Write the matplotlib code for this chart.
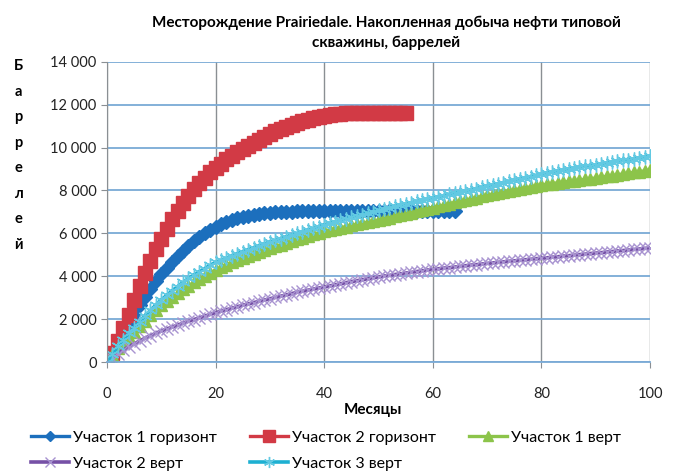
import matplotlib
matplotlib.use("Agg")
import matplotlib.pyplot as plt
from matplotlib.ticker import FuncFormatter, MultipleLocator

plt.rcParams['font.family'] = ['Lato', 'DejaVu Sans']

# месяцы и накопленная добыча, баррели
months_100 = list(range(0, 101))
months_blue = list(range(0, 65))
months_red = list(range(0, 56))

uch1_gor = [0, 450, 900, 1350, 1800, 2250,
            2650, 3050, 3420, 3780, 4100,
            4400, 4680, 4950, 5200, 5430,
            5640, 5830, 6000, 6160, 6300,
            6420, 6530, 6620, 6700, 6770,
            6830, 6880, 6920, 6950, 6970,
            6990, 7000, 7010, 7010, 7020,
            7020, 7020, 7020, 7030, 7030,
            7030, 7030, 7030, 7030, 7030,
            7040, 7040, 7040, 7040, 7040,
            7040, 7040, 7040, 7040, 7040,
            7050, 7050, 7050, 7050, 7050,
            7050, 7050, 7050, 7050]

uch2_gor = [0, 400, 1000, 1600, 2200, 2900,
            3550, 4150, 4700, 5250, 5750,
            6200, 6650, 7050, 7400, 7750,
            8050, 8350, 8600, 8850, 9050,
            9250, 9450, 9620, 9780, 9940,
            10090, 10230, 10370, 10510, 10640,
            10760, 10870, 10970, 11070, 11160,
            11240, 11310, 11380, 11440, 11490,
            11530, 11560, 11580, 11600, 11610,
            11620, 11630, 11630, 11630, 11630,
            11630, 11630, 11630, 11630, 11630]

uch1_vert = [0, 330, 640, 920, 1170, 1400,
             1670, 1930, 2180, 2420, 2650,
             2850, 3040, 3220, 3390, 3550,
             3710, 3860, 4010, 4160, 4300,
             4420, 4540, 4650, 4750, 4850,
             4940, 5030, 5120, 5210, 5300,
             5390, 5470, 5560, 5640, 5720,
             5800, 5880, 5950, 6030, 6100,
             6160, 6210, 6260, 6320, 6370,
             6420, 6470, 6520, 6570, 6620,
             6680, 6730, 6790, 6840, 6900,
             6960, 7020, 7080, 7140, 7200,
             7260, 7320, 7380, 7440, 7500,
             7560, 7610, 7670, 7720, 7780,
             7830, 7880, 7930, 7980, 8030,
             8080, 8120, 8170, 8210, 8260,
             8290, 8320, 8360, 8390, 8420,
             8450, 8480, 8520, 8550, 8580,
             8620, 8660, 8690, 8730, 8770,
             8810, 8840, 8880, 8910, 8950]

uch2_vert = [0, 200, 390, 560, 710, 850,
             980, 1110, 1230, 1340, 1450,
             1540, 1630, 1720, 1810, 1900,
             1980, 2060, 2140, 2220, 2300,
             2370, 2440, 2510, 2580, 2650,
             2710, 2770, 2830, 2890, 2950,
             3010, 3070, 3130, 3190, 3250,
             3300, 3350, 3400, 3450, 3500,
             3550, 3600, 3650, 3700, 3750,
             3790, 3840, 3880, 3930, 3970,
             4010, 4040, 4080, 4110, 4150,
             4180, 4220, 4250, 4290, 4320,
             4350, 4380, 4400, 4430, 4460,
             4490, 4520, 4540, 4570, 4600,
             4620, 4650, 4670, 4700, 4720,
             4740, 4770, 4790, 4820, 4840,
             4860, 4890, 4910, 4940, 4960,
             4980, 5010, 5030, 5060, 5080,
             5100, 5130, 5150, 5180, 5200,
             5220, 5250, 5270, 5300, 5320]

uch3_vert = [0, 380, 740, 1050, 1340, 1600,
             1880, 2150, 2410, 2660, 2900,
             3110, 3320, 3520, 3710, 3900,
             4060, 4210, 4360, 4510, 4650,
             4750, 4850, 4950, 5050, 5150,
             5240, 5330, 5420, 5510, 5600,
             5680, 5760, 5840, 5920, 6000,
             6080, 6160, 6240, 6320, 6400,
             6470, 6540, 6610, 6680, 6750,
             6820, 6880, 6950, 7010, 7080,
             7140, 7200, 7260, 7320, 7380,
             7430, 7490, 7540, 7600, 7650,
             7710, 7760, 7820, 7870, 7930,
             7980, 8040, 8090, 8150, 8200,
             8260, 8310, 8370, 8420, 8480,
             8540, 8590, 8650, 8700, 8760,
             8810, 8860, 8900, 8950, 9000,
             9040, 9080, 9120, 9160, 9200,
             9240, 9280, 9320, 9360, 9400,
             9440, 9480, 9520, 9560, 9600]

labels = ['Участок 1 горизонт', 'Участок 2 горизонт', 'Участок 1 верт',
          'Участок 2 верт', 'Участок 3 верт']

fig = plt.figure(figsize=(6.75, 4.72), dpi=100)
ax = fig.add_axes([0.1585, 0.233, 0.8045, 0.636])

h1, = ax.plot(months_blue, uch1_gor, color='#1c6fbd', lw=2.4, marker='D', ms=7,
              mec='#1c6fbd', mfc='#1c6fbd')
h2, = ax.plot(months_red, uch2_gor, color='#d23a45', lw=2.4, marker='s', ms=10,
              mec='#d23a45', mfc='#d23a45')
h3, = ax.plot(months_100, uch1_vert, color='#8cc44a', lw=2.4, marker='^', ms=9,
              mec='#8cc44a', mfc='#8cc44a')
h4, = ax.plot(months_100, uch2_vert, color='#7650a6', lw=2.6, marker='x', ms=8.5,
              mec='#a893d0', mew=1.0)
h5, = ax.plot(months_100, uch3_vert, color='#1db0d2', lw=2.6, marker=(6, 2, 0), ms=10,
              mec='#62c9e2', mew=1.0)

ax.set_xlim(0, 100)
ax.set_ylim(0, 14000)
ax.xaxis.set_major_locator(MultipleLocator(20))
ax.yaxis.set_major_locator(MultipleLocator(2000))
ax.yaxis.set_major_formatter(FuncFormatter(lambda v, p: f'{int(v):,}'.replace(',', ' ')))

ax.grid(axis='y', color='#7aaad6', lw=1.3)
ax.grid(axis='x', color='#8a8f93', lw=1.0)
ax.set_axisbelow(True)
for s in ['top', 'right']:
    ax.spines[s].set_visible(False)
ax.spines['left'].set_color('#8a8f93')
ax.spines['bottom'].set_color('#7aaad6')
ax.spines['bottom'].set_linewidth(1.3)
ax.tick_params(axis='both', labelsize=10.5, colors='#222222', length=4, width=0.8)
ax.tick_params(axis='y', color='#8a8f93')
ax.tick_params(axis='x', color='#8a8f93', pad=14)

fig.text(0.572, 0.966, 'Месторождение Prairiedale. Накопленная добыча нефти типовой\nскважины, баррелей',
         ha='center', va='top', fontsize=11, fontweight='bold', linespacing=1.5)
fig.text(0.027, 0.875, '\n'.join('Баррелей'), ha='center', va='top',
         fontsize=10.5, fontweight='bold', linespacing=2.05)
fig.text(0.553, 0.131, 'Месяцы', ha='center', va='center', fontsize=11, fontweight='bold')

handles = [h1, h4, h2, h5, h3]
leg_labels = [labels[0], labels[3], labels[1], labels[4], labels[2]]
fig.legend(handles, leg_labels, ncol=3, loc='lower left', bbox_to_anchor=(0.046, 0.002),
           frameon=False, fontsize=11.5, handlelength=2.4, handletextpad=0.2,
           columnspacing=2.1, labelspacing=0.75, borderpad=0, borderaxespad=0,
           markerscale=0.8)

fig.savefig('out.png', dpi=100)
